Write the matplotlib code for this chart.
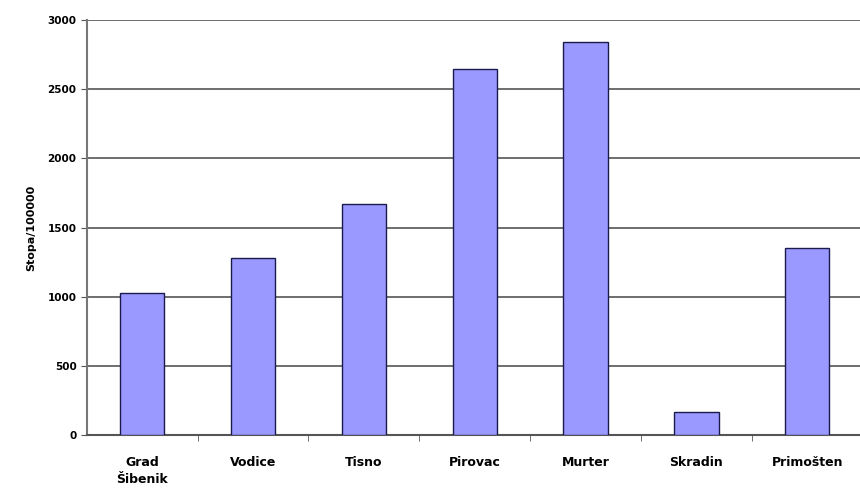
import numpy as np
import matplotlib.pyplot as plt

places = ['Grad\nŠibenik', 'Vodice', 'Tisno', 'Pirovac', 'Murter', 'Skradin', 'Primošten']
rates = [1030, 1280, 1670, 2650, 2840, 165, 1355]

fig = plt.figure(figsize=(8.6, 4.91), dpi=100)
ax = fig.add_axes([0.101, 0.114, 0.902, 0.845])

x = np.arange(len(places))
ax.bar(x, rates, width=0.4, color='#9999FF', edgecolor='#1a1a4d', linewidth=1.0, zorder=3)

ax.set_xlim(-0.5, len(places) - 0.5)
ax.set_ylim(0, 3000)
ax.set_yticks(range(0, 3001, 500))
ax.yaxis.grid(True, color='#555555', linewidth=1.2, zorder=0)

ax.set_xticks(x)
ax.set_xticklabels(places, fontsize=9, fontweight='bold', linespacing=1.45)
ax.tick_params(axis='x', length=0, pad=15)
ax.set_xticks(np.arange(0.5, len(places) - 0.5), minor=True)
ax.tick_params(axis='x', which='minor', length=4, direction='out', color='#555555')
ax.tick_params(axis='y', length=4, labelsize=7.5, color='#555555')
for lab in ax.get_yticklabels():
    lab.set_fontweight('bold')

ax.set_ylabel('Stopa/100000', fontsize=8, fontweight='bold', labelpad=8)

for side in ['top', 'right']:
    ax.spines[side].set_visible(False)
ax.spines['left'].set_color('#777777')
ax.spines['left'].set_linewidth(1.5)
ax.spines['bottom'].set_color('#555555')
ax.spines['bottom'].set_linewidth(1.5)

fig.savefig('out.png', dpi=100)
